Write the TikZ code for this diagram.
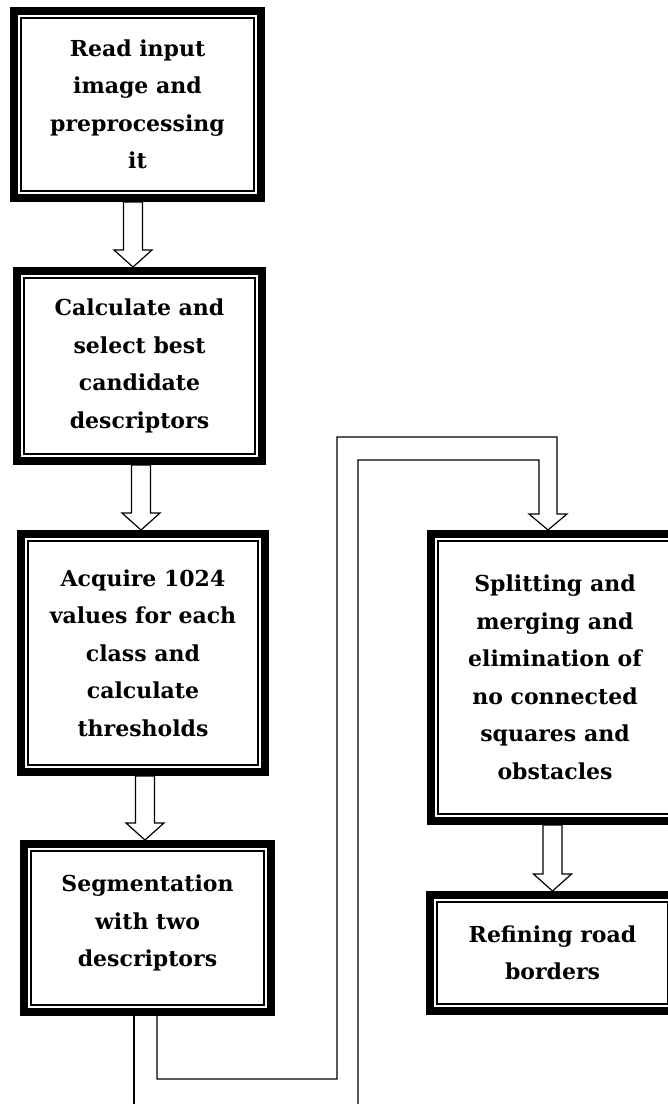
\documentclass[tikz,border=0pt]{standalone}
\usepackage{fontspec}
\setmainfont{DejaVu Serif}

\tikzset{
  box/.style={draw,line width=8pt,align=center,inner sep=0pt,
    font=\bfseries\fontsize{22}{37.5}\selectfont,
    path picture={\draw[line width=1.2pt]
      ([shift={(7pt,-7pt)}]path picture bounding box.north west) rectangle
      ([shift={(-7pt,7pt)}]path picture bounding box.south east);}},
  hollow/.style={draw,line width=1.2pt,line join=miter},
  wire/.style={draw,line width=1.2pt}
}

\begin{document}
\begin{tikzpicture}[x=1pt,y=-1pt]
                    \path[use as bounding box,clip] (0,0) rectangle (668,1104);

                    \node[box,minimum width=247pt,minimum height=187pt] (A) at (137.5,104.5) {Read input\\image and\\preprocessing\\it};
                    \node[box,minimum width=245pt,minimum height=190pt] (B) at (139.5,366) {Calculate and\\select best\\candidate\\descriptors};
                    \node[box,minimum width=244pt,minimum height=238pt] (C) at (143,653) {Acquire 1024\\values for each\\class and\\calculate\\thresholds};
                    \node[box,minimum width=247pt,minimum height=168pt] (D) at (147.5,928) {Segmentation\\with two\\descriptors\\[-23pt]};
                    \node[box,minimum width=248pt,minimum height=287pt] (E) at (555,677.5) {Splitting and\\merging and\\elimination of\\no connected\\squares and\\obstacles};
                    \node[box,minimum width=245pt,minimum height=116pt] (F) at (552.5,953) {Refining road\\borders};

                    \foreach \s/\t/\d in {A/B/-6.5,B/C/-2,C/D/-2.5,E/F/0}
                        \draw[hollow] ([xshift=\d pt]\t.north) -- ++(19,-17) -- ++(-9.5,0) coordinate (h)
                            -- (h |- \s.south) -- ++(-19,0) coordinate (k) -- (k |- h) -- ++(-9.5,0) -- cycle;

                    \draw[wire] ([xshift=-13.5pt]D.south) -- ++(0,110);
                    \draw[wire] ([xshift=9.5pt]D.south) |- (337,1079) |- (557,437) -- (557,514) -- (567,514)
                        -- ([xshift=-7pt]E.north) -- (529,514) -- (539,514) -- (539,460) -| (358,1120);

                \end{tikzpicture}
\end{document}
